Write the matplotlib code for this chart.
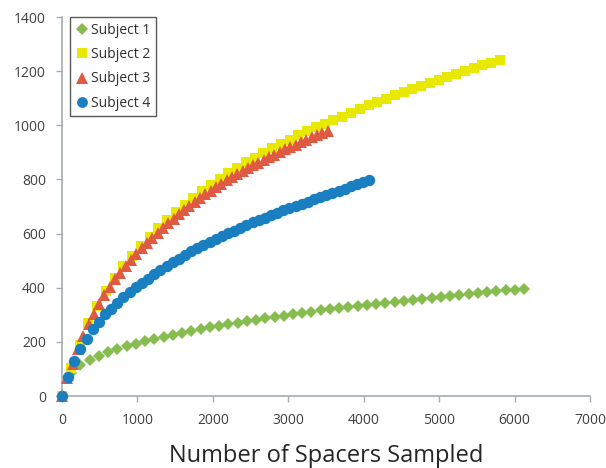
import matplotlib
matplotlib.use("Agg")
import matplotlib.pyplot as plt
import numpy as np

plt.rcParams['font.family'] = ['Open Sans', 'DejaVu Sans']

# ---- data ----
n_steps = 50
step_s1 = 122.5
step_s2 = 116.1
step_s3 = 70.4
step_s4 = 81.5

subject1 = [0, 86, 113, 132, 148, 161, 173, 184, 194, 203, 211, 219, 227, 234, 241,
            248, 254, 260, 266, 271, 277, 282, 287, 292, 297, 302, 307, 311, 316, 320,
            324, 329, 333, 337, 341, 344, 348, 352, 356, 359, 363, 367, 370, 373, 377,
            380, 383, 387, 390, 393, 396]
subject2 = [0, 102, 190, 268, 333, 388, 437, 480, 519, 555, 589, 621, 651, 679, 706,
            732, 757, 780, 803, 825, 844, 863, 881, 898, 915, 931, 947, 963, 978, 993,
            1005, 1019, 1032, 1047, 1061, 1074, 1087, 1099, 1111, 1123, 1135, 1147, 1158,
            1169, 1180, 1190, 1200, 1210, 1221, 1231, 1242]
subject3 = [0, 68, 120, 174, 222, 265, 303, 340, 373, 403, 431, 456, 481, 503, 525,
            545, 566, 585, 603, 622, 639, 655, 671, 686, 702, 717, 731, 745, 758, 772,
            784, 797, 809, 820, 831, 842, 852, 862, 872, 882, 892, 901, 911, 920, 929,
            938, 947, 956, 964, 973, 980]
subject4 = [0, 69, 128, 173, 211, 246, 275, 302, 323, 344, 364, 383, 401, 418, 434,
            450, 465, 480, 494, 508, 521, 534, 546, 558, 569, 580, 591, 601, 611, 621,
            631, 641, 650, 659, 668, 677, 686, 694, 702, 710, 718, 726, 734, 742, 750,
            758, 766, 774, 782, 790, 798]

labels = ["Subject 1", "Subject 2", "Subject 3", "Subject 4"]
x_ticks = [0, 1000, 2000, 3000, 4000, 5000, 6000, 7000]
y_ticks = [0, 200, 400, 600, 800, 1000, 1200, 1400]
x_label = "Number of Spacers Sampled"

series = [
    (subject1, step_s1, 'D', '#86bd4e', 6.3),
    (subject2, step_s2, 's', '#e8e800', 7.2),
    (subject3, step_s3, '^', '#e05a43', 8.5),
    (subject4, step_s4, 'o', '#1a7fc1', 8.2),
]

fig = plt.figure(figsize=(6.06, 4.68), dpi=100)
ax = fig.add_axes([0.1023, 0.1538, 0.8713, 0.8098])

for (vals, step, mk, col, ms), lab in zip(series, labels):
    xs = np.arange(len(vals)) * step
    ax.plot(xs, vals, linestyle='none', marker=mk, color=col, markersize=ms,
            markeredgewidth=0, label=lab, clip_on=False)

ax.set_xlim(0, 7000)
ax.set_ylim(0, 1400)
ax.set_xticks(x_ticks)
ax.set_yticks(y_ticks)
ax.set_xticklabels([str(v) for v in x_ticks])
ax.set_yticklabels([str(v) for v in y_ticks])

for s in ['top', 'right']:
    ax.spines[s].set_visible(False)
for s in ['left', 'bottom']:
    ax.spines[s].set_color('#a6abb0')
    ax.spines[s].set_linewidth(1.2)
    ax.spines[s].set_zorder(0.5)
ax.tick_params(axis='both', direction='out', length=4.5, width=1.0, color='#a6abb0',
               labelsize=10, labelcolor='#404040')
ax.tick_params(axis='x', pad=8)
ax.tick_params(axis='y', pad=7)

ax.set_xlabel(x_label, fontsize=17, color='#262626', labelpad=11)

leg = ax.legend(loc='upper left', bbox_to_anchor=(0.015, 1.0), borderaxespad=0,
                frameon=True, fancybox=False, fontsize=10, handletextpad=0.1,
                handlelength=1.0, borderpad=0.4, labelspacing=0.68, markerscale=0.95)
leg.get_frame().set_edgecolor('#303030')
leg.get_frame().set_linewidth(1.0)
for t in leg.get_texts():
    t.set_color('#303030')

fig.savefig("out.png", dpi=100)
